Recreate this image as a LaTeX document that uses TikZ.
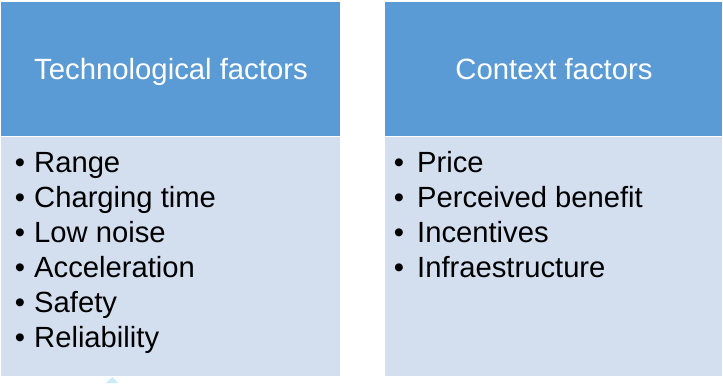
\documentclass[tikz,border=0pt]{standalone}
\usepackage{fontspec}
\setmainfont{Liberation Sans}
\definecolor{headblue}{HTML}{5B9BD5}
\definecolor{bodyblue}{HTML}{D3DEEE}
\definecolor{tipcyan}{HTML}{C8EBFA}
\begin{document}
\begin{tikzpicture}[x=1pt,y=1pt,
  header/.style={fill=headblue,draw=white,line width=0.8pt},
  panel/.style={fill=bodyblue,draw=white,line width=0.8pt},
  title/.style={text=white,font=\fontsize{29.3}{35}\selectfont,inner sep=0pt,anchor=base},
  item/.style={font=\fontsize{29.2}{35}\selectfont,inner sep=0pt,anchor=base west},
  dot/.style={font=\fontsize{29.2}{35}\selectfont,inner sep=0pt,anchor=base}]
\useasboundingbox (0,0) rectangle (723,383);

% left column: technological factors
\path[header] (0,382) rectangle (340,247);
\path[panel] (0,247) rectangle (340,7);
\node[title] (techtitle) at (171,303) {Technological factors};
\foreach \txt [count=\i] in {Range,Charging time,Low noise,Acceleration,Safety,Reliability}{
  \node[dot] (tb\i) at (20,{245-35*\i}) {•};
  \node[item] (ti\i) at (34,{245-35*\i}) {\txt};
}

% right column: context factors
\path[header] (384,382) rectangle (722,247);
\path[panel] (384,247) rectangle (722,7);
\node[title] (ctxtitle) at (554,303) {Context factors};
\foreach \txt [count=\i] in {Price,Perceived benefit,Incentives,Infraestructure}{
  \node[dot] (cb\i) at (399,{245-35*\i}) {•};
  \node[item] (ci\i) at (417,{245-35*\i}) {\txt};
}

% small arrow tip below the left panel
\fill[tipcyan] (106,0) -- (112,6) -- (118,0) -- cycle;
\end{tikzpicture}
\end{document}
